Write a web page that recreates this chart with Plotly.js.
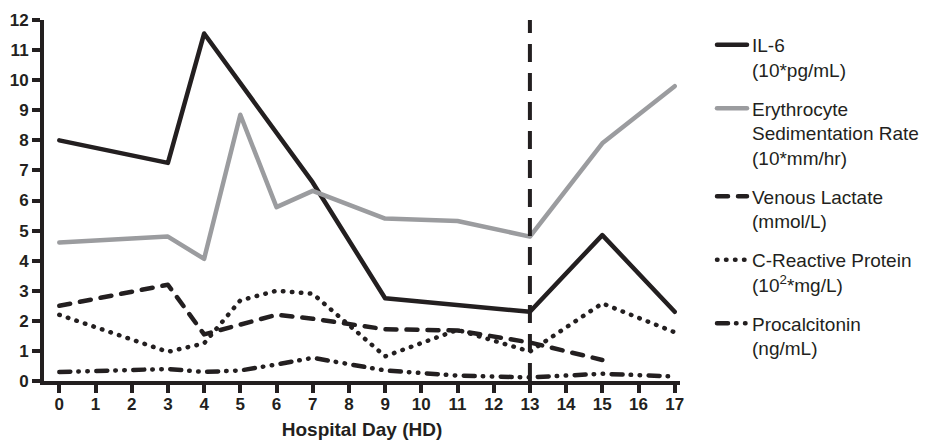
<!DOCTYPE html>
<html>
<head>
<meta charset="utf-8">
<script src="https://cdn.plot.ly/plotly-3.0.1.min.js"></script>
<style>
html, body { margin: 0; padding: 0; background: #fff; }
#chart { width: 933px; height: 443px; }
.scatterlayer .js-line, .legend .js-line { stroke-linecap: round; stroke-linejoin: round; }
</style>
</head>
<body>
<div id="chart"></div>
<script>
// ---- data ----
const il6Days = [0, 3, 4, 7, 9, 13, 15, 17];
const il6 = [8.0, 7.25, 11.55, 6.6, 2.75, 2.3, 4.85, 2.3];

const esrDays = [0, 3, 4, 5, 6, 7, 9, 11, 13, 15, 17];
const esr = [4.6, 4.8, 4.06, 8.85, 5.78, 6.32, 5.4, 5.32, 4.8, 7.9, 9.8];

const lactateDays = [0, 3, 4, 6, 7, 9, 11, 13, 15];
const lactate = [2.5, 3.2, 1.55, 2.2, 2.07, 1.72, 1.68, 1.28, 0.7];

const crpDays = [0, 3, 4, 5, 6, 7, 9, 11, 13, 15, 17];
const crp = [2.2, 0.97, 1.25, 2.68, 3.0, 2.9, 0.82, 1.7, 0.98, 2.58, 1.62];

const pctDays = [0, 3, 4, 5, 6, 7, 9, 11, 13, 15, 17];
const pct = [0.3, 0.4, 0.3, 0.35, 0.55, 0.77, 0.35, 0.18, 0.12, 0.24, 0.15];

const markerDay = [13, 13];
const markerSpan = [0, 12.15];

const seriesNames = [
  'IL-6<br>(10*pg/mL)',
  'Erythrocyte<br>Sedimentation Rate<br>(10*mm/hr)',
  'Venous Lactate<br>(mmol/L)',
  'C-Reactive Protein<br>(10<sup>2</sup>*mg/L)',
  'Procalcitonin<br>(ng/mL)'
];
const xTicks = [0,1,2,3,4,5,6,7,8,9,10,11,12,13,14,15,16,17];
const yTicks = [0,1,2,3,4,5,6,7,8,9,10,11,12];

// ---- styling ----
const BLACK = '#231f20';
const GRAY = '#9b9c9f';
const FONT = 'Arial, "Liberation Sans", sans-serif';

function tr(x, y, name, color, dash, group) {
  return {
    x: x, y: y, name: name, type: 'scatter', mode: 'lines',
    line: { color: color, width: 4.5, dash: dash },
    legendgroup: group, cliponaxis: false, hoverinfo: 'skip'
  };
}

const data = [
  tr(il6Days, il6, seriesNames[0], BLACK, 'solid', 'g1'),
  tr(esrDays, esr, seriesNames[1], GRAY, 'solid', 'g2'),
  tr(lactateDays, lactate, seriesNames[2], BLACK, '11px,10px', 'g3'),
  tr(crpDays, crp, seriesNames[3], BLACK, '0.5px,8.5px', 'g4'),
  tr(pctDays, pct, seriesNames[4], BLACK, '11px,8px,0.5px,8.5px,0.5px,8.5px', 'g5'),
  {
    x: markerDay, y: markerSpan, type: 'scatter', mode: 'lines',
    line: { color: BLACK, width: 4, dash: '18px,11px' },
    showlegend: false, cliponaxis: false, hoverinfo: 'skip'
  }
];

const layout = {
  width: 933, height: 443,
  margin: { l: 44, r: 253, t: 20, b: 62 },
  paper_bgcolor: '#fff', plot_bgcolor: '#fff',
  font: { family: FONT, color: BLACK },
  showlegend: true,
  legend: {
    xref: 'container', yref: 'container',
    x: 712 / 933, xanchor: 'left', y: 1 - 26 / 443, yanchor: 'top',
    maxheight: 420,
    font: { family: FONT, size: 19, color: BLACK },
    valign: 'top', tracegroupgap: 11, bgcolor: 'rgba(0,0,0,0)'
  },
  xaxis: {
    range: [-0.423, 17.146],
    tickmode: 'array', tickvals: xTicks, ticktext: xTicks.map(String),
    showgrid: false, zeroline: false,
    showline: true, linewidth: 4, linecolor: BLACK,
    ticks: 'outside', ticklen: 8, tickwidth: 4, tickcolor: BLACK,
    ticklabelstandoff: -3,
    tickfont: { family: FONT, size: 17, color: BLACK, weight: 'bold' },
    title: { text: '<b>Hospital Day (HD)</b>', font: { family: FONT, size: 19, color: BLACK }, standoff: 10 },
    fixedrange: true
  },
  yaxis: {
    range: [0, 12],
    tickmode: 'array', tickvals: yTicks, ticktext: yTicks.map(String),
    showgrid: false, zeroline: false,
    showline: true, linewidth: 4, linecolor: BLACK,
    ticks: 'outside', ticklen: 8, tickwidth: 4, tickcolor: BLACK,
    tickfont: { family: FONT, size: 17, color: BLACK, weight: 'bold' },
    fixedrange: true
  }
};

Plotly.newPlot('chart', data, layout, { displayModeBar: false, staticPlot: true }).then(function (gd) {
  const traces = gd.querySelectorAll('.scatterlayer .trace');
  const last = traces[traces.length - 1];
  if (last) {
    last.querySelectorAll('.js-line').forEach(function (p) { p.style.strokeLinecap = 'butt'; });
  }
});
</script>
</body>
</html>
